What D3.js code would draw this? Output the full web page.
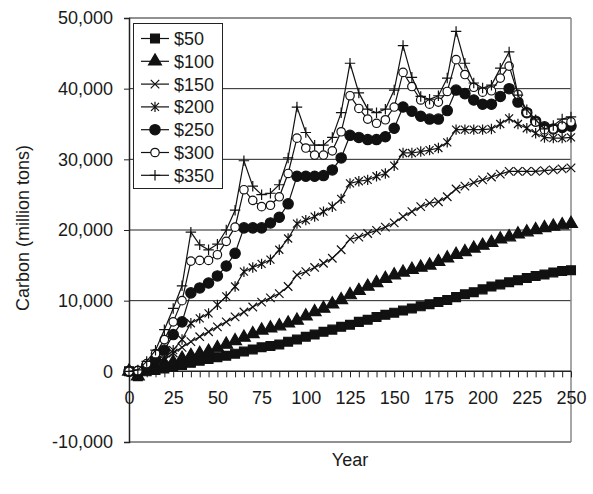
<!DOCTYPE html>
<html lang="en">
<head>
<meta charset="UTF-8">
<title>Carbon by price</title>
<script src="https://cdn.jsdelivr.net/npm/d3@7"></script>
<style>
  body { margin: 0; background: #fff; }
  svg text { font-family: "Liberation Sans", Arial, sans-serif; fill: #1a1a1a; }
</style>
</head>
<body>
<svg id="chart" width="593" height="494"></svg>
<script>
// years, every 5
const years = [0,5,10,15,20,25,30,35,40,45,50,55,60,65,70,75,80,85,90,95,100,105,110,115,120,125,
  130,135,140,145,150,155,160,165,170,175,180,185,190,195,200,205,210,215,220,225,230,235,240,245,250];

const s50 = [0,-700,0,200,400,650,900,1200,1500,1750,2000,2200,2500,2800,3100,3400,3600,3800,4200,4500,
  4900,5200,5600,5900,6300,6600,7000,7300,7700,8000,8300,8600,8900,9200,9500,9800,10100,10500,10900,
  11200,11600,12000,12300,12600,12900,13200,13500,13700,14000,14200,14300];
const s100 = [0,-700,300,600,1000,1300,1800,2200,2500,2800,3300,3800,4300,4800,5300,5800,6100,6400,6800,
  7200,7800,8400,8900,9500,10100,10800,11400,12000,12500,13100,13600,14000,14400,14700,15000,15500,
  16000,16500,16900,17400,17800,18200,18700,19000,19400,19700,20000,20300,20500,20700,20900];
const s150 = [0,-300,300,800,1600,2600,3400,4200,4900,5600,6300,7000,7700,8400,9100,9800,10400,11000,
  12000,13650,14100,14700,15300,16000,17200,18700,19000,19500,19950,20400,21000,21900,22600,23300,
  23800,24000,24700,25800,26200,26700,27100,27500,27900,28300,28300,28300,28300,28400,28500,28650,28800];
const s200 = [0,-200,500,1200,1900,3000,4500,6800,7500,8200,9400,10600,12000,14100,14700,15200,15800,
  17200,18800,20900,21400,21900,22600,23300,24400,26600,26900,27100,27600,28000,29100,30900,30900,
  31100,31300,31600,32400,34200,34200,34200,34200,34300,35000,35800,35000,34400,33700,33100,33000,33000,33100];
const s250 = [0,0,800,1700,3000,5200,7000,11100,11800,12500,13500,14900,16700,20300,20300,20300,21000,
  21800,23700,27600,27600,27600,27700,28500,30200,33400,33100,32800,32800,33200,34400,37400,36800,
  36100,35700,35700,36900,39800,39300,38400,37800,37800,38900,40000,38100,36600,35400,34600,34300,34500,34700];
const s300 = [0,100,1100,2500,4500,7000,10000,15600,15700,15700,16500,18400,20400,25700,24200,23300,
  23500,24700,28000,33000,31600,30600,30600,31200,33900,39000,37200,35700,35100,35600,37400,42300,
  40300,38400,37800,38100,39600,44100,42000,40200,39500,39700,41500,43200,39200,36600,35300,34200,34300,34700,35300];
const s350 = [0,200,1400,3000,5900,8900,12100,19700,17900,17200,18000,20000,22800,29800,26200,25000,
  25200,26400,30200,37400,33800,32000,32000,33100,36600,43600,39400,37100,36600,37100,39800,46100,
  41600,38900,38500,39000,41500,48100,43600,40800,40100,40500,42900,45200,39100,37000,35600,34300,34800,35700,36000];

const seriesNames = ["$50","$100","$150","$200","$250","$300","$350"];
const seriesVals = [s50, s100, s150, s200, s250, s300, s350];
const markerKinds = ["square","triangle","times","asterisk","dot","ring","plus"];

const yTicks = [-10000,0,10000,20000,30000,40000,50000];
const xLabelTicks = [0,25,50,75,100,125,150,175,200,225,250];

const svg = d3.select("#chart");
const plotL = 129, plotR = 571, plotT = 18, plotB = 442;

const x = d3.scaleLinear().domain([0, 250]).range([plotL, plotR]);
const y = d3.scaleLinear().domain([-10000, 50000]).range([plotB, plotT]);

const fmtY = d => d3.format(",")(d).replace("\u2212", "-");

// gridlines
svg.append("g")
  .selectAll("line")
  .data(yTicks.filter(v => v > 0))
  .join("line")
  .attr("x1", plotL).attr("x2", plotR)
  .attr("y1", d => y(d)).attr("y2", d => y(d))
  .attr("stroke", "#222").attr("stroke-width", 1);

// frame bottom and right
svg.append("line").attr("x1", plotL).attr("x2", plotR).attr("y1", y(-10000)).attr("y2", y(-10000))
  .attr("stroke", "#222");
svg.append("line").attr("x1", plotR).attr("x2", plotR).attr("y1", plotT).attr("y2", plotB)
  .attr("stroke", "#888").attr("stroke-width", 1.5);

// y axis
const yAxis = svg.append("g")
  .attr("transform", `translate(${plotL},0)`)
  .call(d3.axisLeft(y).tickValues(yTicks).tickSize(5).tickPadding(11).tickFormat(fmtY));
yAxis.select(".domain").attr("stroke", "#222").attr("stroke-width", 1.5);
yAxis.selectAll(".tick line").attr("stroke", "#222");
yAxis.selectAll("text").style("font-size", "18px").attr("fill", "#1a1a1a");

// x axis at zero
const xAxis = svg.append("g")
  .attr("transform", `translate(0,${y(0)})`)
  .call(d3.axisBottom(x).tickValues(years).tickSize(6).tickPadding(14)
    .tickFormat(d => xLabelTicks.includes(d) ? d : ""));
xAxis.select(".domain").attr("d", `M${plotL},0H${plotR}`).attr("stroke", "#222").attr("stroke-width", 1.5);
xAxis.selectAll(".tick line").attr("stroke", "#222");
xAxis.selectAll("text").style("font-size", "18px").attr("fill", "#1a1a1a");

// axis titles
svg.append("text")
  .attr("transform", "translate(29,228) rotate(-90)")
  .attr("text-anchor", "middle")
  .style("font-size", "18px")
  .text("Carbon (million tons)");
svg.append("text")
  .attr("x", 350).attr("y", 466)
  .attr("text-anchor", "middle")
  .style("font-size", "18px")
  .text("Year");

// custom marker shapes
const asterisk = {
  draw(ctx, size) {
    const r = Math.sqrt(size) / 2;
    ctx.moveTo(-r, -r); ctx.lineTo(r, r);
    ctx.moveTo(-r, r); ctx.lineTo(r, -r);
    ctx.moveTo(0, -r * 1.3); ctx.lineTo(0, r * 1.3);
  }
};
const times = {
  draw(ctx, size) {
    const r = Math.sqrt(size) / 2;
    ctx.moveTo(-r, -r); ctx.lineTo(r, r);
    ctx.moveTo(-r, r); ctx.lineTo(r, -r);
  }
};
const plus = {
  draw(ctx, size) {
    const r = Math.sqrt(size) / 2;
    ctx.moveTo(-r, 0); ctx.lineTo(r, 0);
    ctx.moveTo(0, -r); ctx.lineTo(0, r);
  }
};

function markerPath(kind) {
  switch (kind) {
    case "square": return d3.symbol(d3.symbolSquare, 78)();
    case "triangle": return d3.symbol(d3.symbolTriangle, 72)();
    case "times": return d3.symbol(times, 72)();
    case "asterisk": return d3.symbol(asterisk, 64)();
    case "dot": return d3.symbol(d3.symbolCircle, 84)();
    case "ring": return d3.symbol(d3.symbolCircle, 56)();
    case "plus": return d3.symbol(plus, 110)();
  }
}
function markerFill(kind) {
  if (kind === "square" || kind === "triangle" || kind === "dot") return "#111";
  if (kind === "ring") return "#fff";
  return "none";
}

const line = d3.line().x(d => x(d[0])).y(d => y(d[1]));

seriesVals.forEach((vals, i) => {
  const pts = years.map((yr, j) => [yr, vals[j]]);
  const kind = markerKinds[i];
  const g = svg.append("g");
  g.append("path")
    .datum(pts)
    .attr("d", line)
    .attr("fill", "none")
    .attr("stroke", "#111")
    .attr("stroke-width", 1.2);
  g.selectAll("path.m")
    .data(pts)
    .join("path")
    .attr("class", "m")
    .attr("transform", d => `translate(${x(d[0])},${y(d[1])})`)
    .attr("d", markerPath(kind))
    .attr("fill", markerFill(kind))
    .attr("stroke", "#111")
    .attr("stroke-width", 1.2);
});

// legend
const lg = svg.append("g");
lg.append("rect")
  .attr("x", 133.5).attr("y", 23.5).attr("width", 89).attr("height", 165)
  .attr("fill", "#fff").attr("stroke", "#222").attr("stroke-width", 1);
seriesNames.forEach((name, i) => {
  const ly = 38.5 + i * 22.8;
  const kind = markerKinds[i];
  lg.append("line").attr("x1", 141).attr("x2", 169).attr("y1", ly).attr("y2", ly)
    .attr("stroke", "#111").attr("stroke-width", 1.2);
  lg.append("path")
    .attr("transform", `translate(155,${ly})`)
    .attr("d", markerPath(kind))
    .attr("fill", markerFill(kind))
    .attr("stroke", "#111").attr("stroke-width", 1.2);
  lg.append("text")
    .attr("x", 174).attr("y", ly + 6.5)
    .style("font-size", "18px")
    .text(name);
});
</script>
</body>
</html>
